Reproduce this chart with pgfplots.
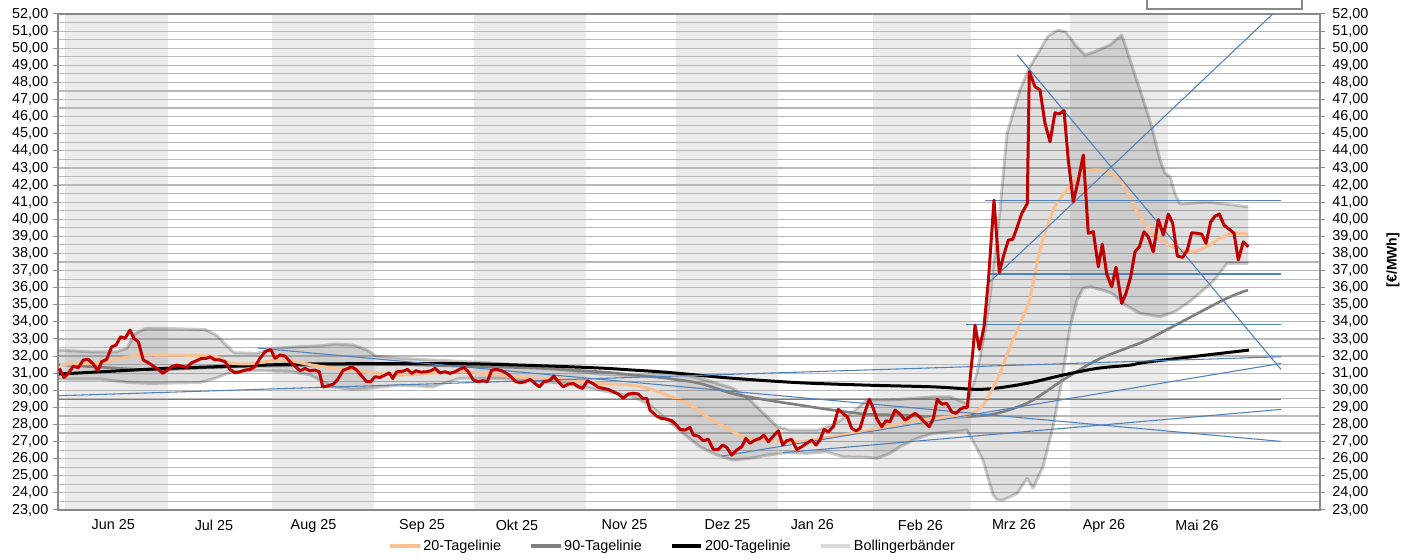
\documentclass[border=0pt]{standalone}
\usepackage{fontspec}
\setmainfont{Liberation Sans}
\usepackage{pgfplots}
\pgfplotsset{compat=1.18}
\usepgfplotslibrary{fillbetween}
\definecolor{mred}{HTML}{C00000}
\definecolor{morange}{HTML}{FAC090}
\definecolor{mgray}{HTML}{808080}
\definecolor{mblue}{HTML}{4F81BD}
\definecolor{mshade}{HTML}{EBEBEB}
\definecolor{mgrid}{HTML}{B8B8B8}
\definecolor{maxis}{HTML}{898989}
\definecolor{mlegband}{HTML}{D9D9D9}
\begin{document}
\fontsize{10.8}{13}\selectfont
\begin{tikzpicture}
\begin{axis}[
  set layers,
  at={(0,0)}, anchor=south west,
  scale only axis, width=946.5pt, height=372pt,
  xmin=58, xmax=1320, ymin=23, ymax=52,
  axis line style={maxis, line width=1.1pt},
  xtick={113.3,214,313.5,422,517,624.5,727.5,812.4,920.4,1014,1104,1197},
  xticklabels={Jun 25,Jul 25,Aug 25,Sep 25,Okt 25,Nov 25,Dez 25,Jan 26,Feb 26,Mrz 26,Apr 26,Mai 26},
  xtick style={draw=none},
  ytick={23,24,...,52},
  minor ytick={23.5,24.5,...,51.5},
  ytick pos=left,
  tick align=outside,
  major tick length=3.5pt, minor tick length=0pt,
  ytick style={maxis, line width=0.75pt},
  ymajorgrids, yminorgrids,
  major grid style={mgrid, line width=0.9pt},
  minor grid style={mgrid, line width=0.9pt},
  /pgf/number format/assume math mode=true,
  yticklabel style={/pgf/number format/fixed, /pgf/number format/fixed zerofill, /pgf/number format/precision=2, /pgf/number format/use comma},
  legend style={at={(0.4872,-0.0726)}, anchor=center, draw=none, fill=none, legend columns=4,
    /tikz/every even column/.append style={column sep=20pt},
    nodes={inner xsep=1.5pt, inner ysep=0pt}},
  legend image code/.code={\draw[#1] (0pt,0pt) -- (22pt,0pt);},
]
\addlegendimage{morange, line width=2.4pt}\addlegendentry{20-Tagelinie}
\addlegendimage{mgray, line width=2.4pt}\addlegendentry{90-Tagelinie}
\addlegendimage{black, line width=2.4pt}\addlegendentry{200-Tagelinie}
\addlegendimage{mlegband, line width=2.4pt}\addlegendentry{Bollingerbänder}

% month shading
\addplot[fill=mshade, draw=none, forget plot, on layer=axis background] coordinates {(65,23) (65,52) (168,52) (168,23)} -- cycle;
\addplot[fill=mshade, draw=none, forget plot, on layer=axis background] coordinates {(272,23) (272,52) (374.3,52) (374.3,23)} -- cycle;
\addplot[fill=mshade, draw=none, forget plot, on layer=axis background] coordinates {(474,23) (474,52) (585.7,52) (585.7,23)} -- cycle;
\addplot[fill=mshade, draw=none, forget plot, on layer=axis background] coordinates {(676,23) (676,52) (778.3,52) (778.3,23)} -- cycle;
\addplot[fill=mshade, draw=none, forget plot, on layer=axis background] coordinates {(873.3,23) (873.3,52) (971,52) (971,23)} -- cycle;
\addplot[fill=mshade, draw=none, forget plot, on layer=axis background] coordinates {(1070,23) (1070,52) (1168,52) (1168,23)} -- cycle;

% Bollinger bands
\addplot[name path=up, draw=black, draw opacity=0.2, line width=2.2pt, forget plot, line join=round] coordinates {
(59,32.35) (90,32.25) (117,32.25) (127,32.45) (135,33.3) (145,33.6) (175,33.6) (205,33.55) (217,33.2) (227,32.6) (234,32.2) (257,32.16) (275,32.45) (300,32.55) (320,32.6) (335,32.7) (353,32.65) (367,32.35) (376,32.0) (400,31.87) (433,31.77) (467,31.67) (500,31.57) (533,31.38) (567,31.18) (600,30.95) (633,30.85) (650,30.9) (677,30.99) (700,30.70) (733,30.11) (750,29.43) (767,28.45) (777,27.87) (790,27.67) (817,27.67) (833,27.96) (853,28.74) (867,29.43) (883,29.43) (900,29.47) (933,29.62) (950,29.62) (967,29.23) (977,31.0) (985,33.5) (990,35.5) (1000,40.5) (1007,45.0) (1020,47.56) (1030,48.92) (1040,49.9) (1048,50.7) (1058,51.06) (1066,50.95) (1075,50.2) (1085,49.6) (1095,49.8) (1110,50.19) (1121.7,50.77) (1126.7,49.9) (1133.3,48.73) (1143.3,46.97) (1151.7,45.41) (1160,43.46) (1165,42.68) (1170,42.49) (1175,41.51) (1180,40.89) (1206.7,41.0) (1223,40.9) (1248.3,40.73)};
\addplot[name path=lo, draw=black, draw opacity=0.2, line width=2.2pt, forget plot, line join=round] coordinates {
(59,30.65) (100,30.65) (130,30.45) (150,30.4) (200,30.45) (215,30.7) (233,31.1) (260,31.15) (290,31.1) (310,30.9) (333,30.2) (353,30.05) (367,30.11) (383,30.2) (400,30.3) (433,30.2) (460,30.7) (500,30.70) (567,30.4) (600,30.0) (633,29.62) (650,29.13) (667,28.26) (683,27.48) (700,26.70) (717,26.21) (733,25.92) (750,26.02) (767,26.21) (787,26.35) (807,26.31) (827,26.40) (843,26.11) (867,26.08) (877,26.02) (890,26.31) (900,26.70) (917,27.19) (933,27.48) (950,27.57) (967,27.67) (975,26.8) (983,25.92) (988,24.9) (993,23.9) (997,23.6) (1003,23.58) (1017,23.97) (1027,24.85) (1033,24.27) (1043,25.53) (1053,27.87) (1062,30.6) (1070,33.71) (1077,35.27) (1083,35.96) (1090,36.05) (1103,35.85) (1112,35.67) (1125,35.0) (1140,34.5) (1160,34.3) (1175,34.6) (1190,35.2) (1200,35.7) (1210,36.2) (1217,36.64) (1227,37.42) (1248.3,37.42)};
\addplot[fill=black, fill opacity=0.12, draw=none, forget plot] fill between[of=up and lo];

% 90-day
\addplot[mgray, line width=2pt, forget plot, smooth] coordinates {
(59,31.5) (100,31.35) (150,31.2) (200,31.3) (250,31.4) (300,31.45) (350,31.5) (400,31.5) (467,31.4) (533,31.3) (600,31.08) (633,30.9) (667,30.7) (700,30.4) (733,29.8) (767,29.43) (800,29.13) (833,28.84) (867,28.6) (900,28.55) (933,28.45) (967,28.45) (997,28.65) (1030,29.33) (1063,30.6) (1097,31.77) (1130,32.54) (1150,33.03) (1223,35.27) (1248,35.86)};
% 200-day
\addplot[black, line width=2.25pt, forget plot, smooth] coordinates {
(59,30.95) (120,31.14) (167,31.28) (233,31.41) (300,31.53) (400,31.56) (467,31.55) (533,31.45) (600,31.3) (633,31.18) (667,31.05) (733,30.7) (800,30.44) (867,30.3) (933,30.2) (967,30.08) (980,30.05) (1000,30.15) (1030,30.44) (1063,30.89) (1097,31.28) (1130,31.47) (1150,31.67) (1249,32.35)};
% 20-day
\addplot[morange, line width=2.25pt, forget plot, smooth] coordinates {
(60,31.51) (80,31.55) (100,31.6) (120,31.85) (140,32.05) (170,32.05) (213,32.0) (230,31.6) (250,31.55) (276.7,31.77) (290,31.72) (310,31.5) (333,31.3) (367,31.06) (400,30.89) (433,31.0) (467,31.08) (500,30.89) (533,30.7) (567,30.6) (600,30.4) (633,30.3) (650,30.07) (667,29.72) (687,29.25) (707,28.45) (727,27.79) (743,27.28) (760,27.09) (780,27.05) (800,26.99) (817,27.13) (833,27.28) (853,27.48) (873,27.71) (893,27.96) (913,28.22) (933,28.35) (953,28.45) (967,28.55) (980,28.94) (988,29.6) (1000,31.0) (1010,32.54) (1023,34.3) (1030,35.4) (1040,38.2) (1053.3,40.54) (1066.7,41.71) (1080,42.68) (1093.3,42.88) (1106.7,42.78) (1120,42.29) (1130,41.32) (1140,40.15) (1153.3,39.18) (1166.7,38.59) (1180,38.2) (1193.3,38.10) (1206.7,38.39) (1220,38.88) (1233.3,39.18) (1248.3,39.13)};

% trend lines
\addplot[mblue, line width=0.8pt, forget plot] coordinates {(59,29.47) (1281,29.47)};
\addplot[mblue, line width=0.8pt, forget plot] coordinates {(59,29.68) (1281,31.96)};
\addplot[mblue, line width=0.8pt, forget plot] coordinates {(257.3,32.47) (1281,27.01)};
\addplot[mblue, line width=0.8pt, forget plot] coordinates {(722,26.15) (1281,31.57)};
\addplot[mblue, line width=0.8pt, forget plot] coordinates {(783,26.35) (1281,28.88)};
\addplot[mblue, line width=0.8pt, forget plot] coordinates {(1017.3,49.6) (1281,31.22)};
\addplot[mblue, line width=0.8pt, forget plot] coordinates {(989.3,36.31) (1272.7,52)};
\addplot[mblue, line width=0.8pt, forget plot] coordinates {(985,41.12) (1281,41.12)};
\addplot[mblue, line width=0.8pt, forget plot] coordinates {(989,36.80) (1281,36.80)};
\addplot[mblue, line width=0.8pt, forget plot] coordinates {(966,33.84) (1281,33.84)};

% price
\addplot[mred, line width=2.25pt, forget plot, line join=round] coordinates {
(59.3,31.28) (64,30.75) (68.3,30.99) (73.3,31.41) (78.3,31.32) (83.3,31.77) (88.3,31.81) (93.3,31.53) (97.7,31.14) (101.7,31.67) (106.7,31.81) (111.7,32.54) (116,32.64) (120.7,33.13) (125,33.03) (130,33.52) (134,33.03) (138.3,32.84) (143.3,31.77) (148.3,31.61) (153.3,31.41) (158.3,31.22) (162.7,30.99) (167.3,31.18) (171.7,31.38) (176.7,31.47) (181.7,31.41) (186.7,31.34) (191.7,31.61) (196.7,31.73) (201.7,31.87) (206.7,31.87) (210,31.96) (215,31.77) (220,31.77) (225,31.67) (230,31.22) (235,31.02) (240,31.08) (245,31.18) (250,31.22) (255,31.38) (260,31.87) (265,32.25) (270.7,32.39) (275,31.87) (280,32.06) (285,32.00) (290,31.67) (295,31.41) (300,31.14) (305,31.28) (310,31.14) (315,31.18) (319.3,31.08) (322.7,30.20) (328.3,30.26) (333.3,30.36) (337.3,30.60) (343.3,31.18) (348.3,31.28) (351.7,31.38) (356.7,31.18) (361.7,30.83) (366.7,30.50) (370.7,30.50) (375,30.79) (380,30.75) (385,30.89) (389.3,31.02) (392.7,30.69) (396.7,31.08) (403.3,31.12) (407.3,31.22) (411.7,30.99) (416,31.14) (420.7,31.06) (426,31.08) (430.7,31.14) (435,31.28) (440,31.02) (445,31.08) (450,30.99) (455,31.08) (459.3,31.22) (464,31.34) (468.3,31.08) (473.3,30.60) (478.3,30.50) (482.7,30.56) (487.3,30.50) (491.7,31.18) (496.7,31.22) (501.7,31.14) (506.7,30.99) (511.7,30.75) (516,30.50) (520.7,30.44) (525,30.50) (530,30.64) (535,30.40) (539.3,30.20) (544,30.50) (549.3,30.56) (554,30.83) (558.3,30.50) (563.3,30.20) (568.3,30.36) (573.3,30.40) (578.3,30.20) (582.7,30.11) (587.3,30.56) (592.7,30.40) (598.3,30.17) (603.3,30.11) (608.3,30.05) (613.3,29.91) (618.3,29.78) (623.3,29.53) (628.3,29.78) (633.3,29.82) (638.3,29.78) (642.7,29.53) (646.7,29.53) (650,28.84) (656.7,28.49) (661.7,28.35) (666.7,28.31) (671.7,28.22) (676.7,27.96) (680,27.71) (685,27.67) (690,27.83) (693.3,27.38) (698.3,27.32) (703.3,27.05) (708.3,27.13) (713.3,26.54) (718.3,26.54) (722.7,26.80) (726.7,26.66) (731.7,26.21) (736.7,26.50) (741.7,26.70) (746,27.19) (750,26.90) (755,27.09) (760,27.19) (764,27.38) (768.3,26.99) (773.3,27.32) (778.3,27.63) (782.7,26.80) (786.7,27.05) (791.7,27.13) (796.7,26.54) (801.7,26.70) (806.7,26.90) (811.7,27.09) (816,26.80) (820,27.09) (824,27.71) (828.3,27.57) (833.3,27.87) (838.3,28.88) (842.7,28.65) (847.3,28.45) (851.7,27.77) (856,27.63) (860,27.77) (865,28.74) (869.3,29.47) (872.7,29.04) (876.7,28.35) (881.7,27.87) (886,28.22) (890,28.16) (895,28.84) (899.3,28.65) (905,28.26) (910,28.45) (915,28.65) (920,28.42) (925,28.11) (929.3,27.87) (933.3,28.35) (937.3,29.47) (941.7,29.19) (946.7,29.23) (951.7,28.74) (956,28.65) (960,28.88) (964,29.00) (967.3,29.00) (970,30.60) (973.3,32.54) (975,33.81) (979.3,32.39) (984,33.71) (988.5,36.5) (994,41.12) (999.3,36.87) (1003.3,37.81) (1008.3,38.78) (1012.7,38.82) (1017.3,39.56) (1021.7,40.33) (1027.3,40.92) (1029.3,48.63) (1035,47.75) (1040,47.56) (1045,45.61) (1050,44.53) (1055,46.23) (1059.3,46.15) (1064,46.35) (1068.3,43.46) (1073.3,41.02) (1078.3,42.29) (1083.3,43.75) (1088.3,39.18) (1093.3,39.27) (1098.3,37.22) (1102.3,38.55) (1106.7,36.80) (1111.7,36.05) (1116,37.19) (1121.7,35.08) (1126,35.67) (1130.7,36.64) (1135,38.10) (1139.3,38.39) (1144,39.27) (1148.3,38.98) (1153.3,38.10) (1158.3,39.99) (1163.3,39.08) (1168.3,40.30) (1172.7,39.76) (1177.3,37.85) (1182.7,37.77) (1187.3,38.20) (1191.7,39.21) (1196.7,39.18) (1201.7,39.13) (1206,38.59) (1210.7,39.85) (1215,40.18) (1219.3,40.30) (1224,39.66) (1229.3,39.41) (1234,39.18) (1238.3,37.62) (1243.3,38.68) (1248.3,38.39)};
\end{axis}
\begin{axis}[
  at={(0,0)}, anchor=south west,
  scale only axis, width=946.5pt, height=372pt,
  xmin=58, xmax=1320, ymin=23, ymax=52,
  clip=false,
  axis x line=none, axis y line*=right,
  axis line style={maxis, line width=1.1pt},
  ytick={23,24,...,52},
  tick align=outside, major tick length=3.5pt,
  ytick style={maxis, line width=0.75pt},
  /pgf/number format/assume math mode=true,
  yticklabel style={xshift=2pt, /pgf/number format/fixed, /pgf/number format/fixed zerofill, /pgf/number format/precision=2, /pgf/number format/use comma},
]
\addplot[draw=none] coordinates {(600,30)};
\node[rotate=90, font=\bfseries\fontsize{10.5}{12}\selectfont] at (rel axis cs:1.0578,0.504) {[€/MWh]};
\end{axis}
\draw[maxis, line width=0.8pt] (816.75pt,383pt) |- (933pt,375.75pt) -- (933pt,383pt);
\pgfresetboundingbox
\useasboundingbox (-43.5pt,-37.5pt) rectangle (1017.75pt,382.5pt);
\end{tikzpicture}
\end{document}
